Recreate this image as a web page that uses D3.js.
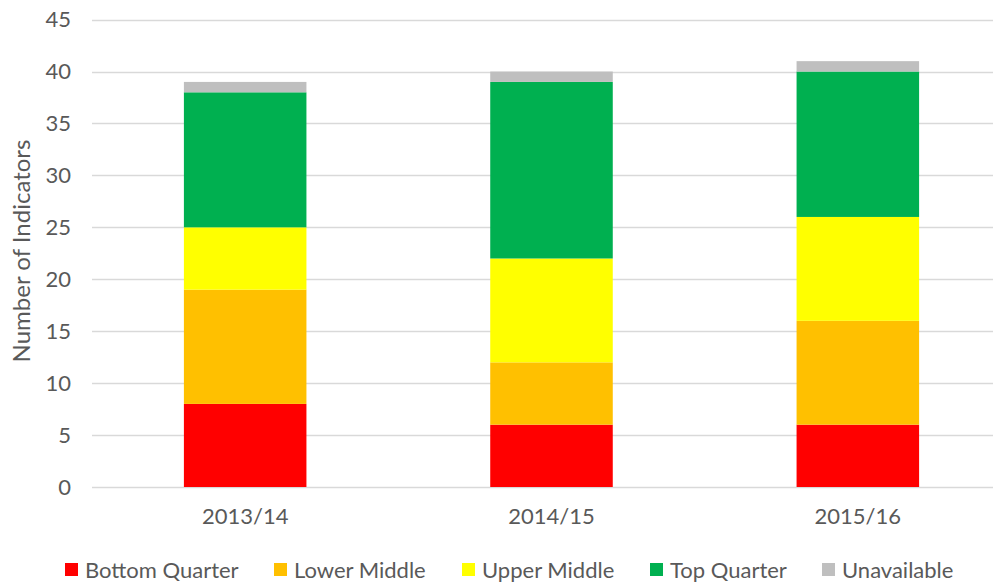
<!DOCTYPE html>
<html>
<head>
<meta charset="utf-8">
<script src="https://cdn.jsdelivr.net/npm/d3@7"></script>
<style>
  html, body { margin: 0; padding: 0; background: #fff; }
  svg { display: block; }
  text { font-family: Lato, "Open Sans", sans-serif; fill: #595959; }
</style>
</head>
<body>
<svg id="chart" width="993" height="586"></svg>
<script>
// Indicator counts per year, stacked by quartile band
const years = ["2013/14", "2014/15", "2015/16"];
const seriesNames = ["Bottom Quarter", "Lower Middle", "Upper Middle", "Top Quarter", "Unavailable"];
const bottomQuarter = [8, 6, 6];
const lowerMiddle   = [11, 6, 10];
const upperMiddle   = [6, 10, 10];
const topQuarter    = [13, 17, 14];
const unavailable   = [1, 1, 1];
const yTicks = [0, 5, 10, 15, 20, 25, 30, 35, 40, 45];
const colors = ["#FF0000", "#FFC000", "#FFFF00", "#00B050", "#BFBFBF"];

const rows = years.map((y, i) => ({
  year: y,
  "Bottom Quarter": bottomQuarter[i],
  "Lower Middle": lowerMiddle[i],
  "Upper Middle": upperMiddle[i],
  "Top Quarter": topQuarter[i],
  "Unavailable": unavailable[i]
}));

const svg = d3.select("#chart");
const x = d3.scaleBand().domain(years).range([92, 1011]).paddingInner(0.6).paddingOuter(0.3);
const y = d3.scaleLinear().domain([0, 45]).range([487, 19.6]);
const color = d3.scaleOrdinal().domain(seriesNames).range(colors);

// Horizontal gridlines
svg.append("g")
  .selectAll("line")
  .data(yTicks)
  .join("line")
  .attr("x1", 92).attr("x2", 993)
  .attr("y1", d => Math.round(y(d)) + 0.5)
  .attr("y2", d => Math.round(y(d)) + 0.5)
  .attr("stroke", "#D9D9D9")
  .attr("stroke-width", 1.3);

// Y tick labels
const yAxis = svg.append("g")
  .attr("transform", "translate(71,0)")
  .call(d3.axisLeft(y).tickValues(yTicks).tickSize(0).tickPadding(0));
yAxis.select(".domain").remove();
yAxis.selectAll("text")
  .attr("font-size", 22)
  .attr("fill", "#595959")
  .style("font-family", "Lato, 'Open Sans', sans-serif");

// Stacked bars
const stacked = d3.stack().keys(seriesNames)(rows);
svg.append("g")
  .selectAll("g")
  .data(stacked)
  .join("g")
  .attr("fill", d => color(d.key))
  .selectAll("rect")
  .data(d => d)
  .join("rect")
  .attr("x", d => x(d.data.year))
  .attr("width", x.bandwidth())
  .attr("y", d => y(d[1]))
  .attr("height", d => y(d[0]) - y(d[1]));

// X category labels
const xAxis = svg.append("g")
  .attr("transform", "translate(0,487)")
  .call(d3.axisBottom(x).tickSize(0).tickPadding(21));
xAxis.select(".domain").remove();
xAxis.selectAll("text")
  .attr("font-size", 22)
  .attr("fill", "#595959")
  .style("font-family", "Lato, 'Open Sans', sans-serif");

// Axis title
svg.append("text")
  .attr("transform", "translate(30,251) rotate(-90)")
  .attr("text-anchor", "middle")
  .attr("font-size", 24)
  .text("Number of Indicators");

// Legend
const legendX = [65, 274, 462, 650, 822];
const legend = svg.append("g")
  .selectAll("g")
  .data(seriesNames)
  .join("g")
  .attr("transform", (d, i) => `translate(${legendX[i]},570)`);
legend.append("rect")
  .attr("x", 0).attr("y", -7)
  .attr("width", 13).attr("height", 13)
  .attr("fill", d => color(d));
legend.append("text")
  .attr("x", 20).attr("y", 0)
  .attr("dy", "0.35em")
  .attr("font-size", 22)
  .text(d => d);
</script>
</body>
</html>
